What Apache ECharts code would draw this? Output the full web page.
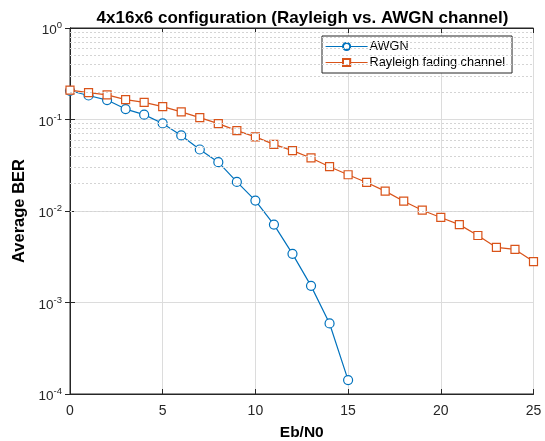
<!DOCTYPE html>
<html>
<head>
<meta charset="utf-8">
<script src="https://cdn.jsdelivr.net/npm/echarts@6/dist/echarts.min.js"></script>
<style>html,body{margin:0;padding:0;background:#fff}#c{width:545px;height:441px}</style>
</head>
<body>
<div id="c"></div>
<script>
var ebn0 = [0,1,2,3,4,5,6,7,8,9,10,11,12,13,14,15,16,17,18,19,20,21,22,23,24,25];
var awgn = [0.206,0.183,0.163,0.130,0.113,0.0906,0.067,0.047,0.0342,0.0208,0.0130,0.0071,0.0034,0.00152,0.00059,0.000142];
var rayleigh = [0.209,0.197,0.186,0.165,0.154,0.138,0.121,0.105,0.090,0.0756,0.0645,0.0535,0.0457,0.0380,0.0305,0.0249,0.0205,0.0165,0.0128,0.0102,0.0085,0.0071,0.0054,0.0040,0.0038,0.0028];
var xTicks = [0,5,10,15,20,25];
var yDecades = [1e-4,1e-3,1e-2,1e-1,1];
var minorVals = [];
[1e-4,1e-3,1e-2,1e-1].forEach(function(d){ for (var k=2;k<=9;k++) minorVals.push(+(d*k).toPrecision(3)); });

var txt = '#262626';
var font = 'Liberation Sans, Arial, sans-serif';
function pairs(vals){ return vals.map(function(v,i){ return [ebn0[i], v]; }); }
function expLabel(v){
  var e = Math.round(Math.log10(v));
  return '{b|10}{s|' + e + '}';
}
var chart = echarts.init(document.getElementById('c'), null, {renderer:'canvas'});
chart.setOption({
  animation: false,
  backgroundColor: '#fff',
  textStyle: {fontFamily: font},
  title: {
    text: '4x16x6 configuration (Rayleigh vs. AWGN channel)',
    left: 297.5, top: 5, textAlign: 'center',
    textStyle: {fontSize: 17, fontWeight: 'bold', color: '#000', fontFamily: font}
  },
  grid: {left: 70, right: 11.5, top: 28, bottom: 47, containLabel: false, outerBoundsMode: 'none',
    show: true, borderColor: txt, borderWidth: 1, backgroundColor: '#fff'},
  legend: {
    orient: 'vertical', left: 322, top: 36,
    width: 191,
    padding: [4, 7, 4, 3],
    itemGap: 3,
    itemWidth: 42, itemHeight: 9,
    borderColor: txt, borderWidth: 1, borderRadius: 0,
    backgroundColor: '#fff',
    lineStyle: {width: 1.2},
    textStyle: {fontSize: 12.7, color: '#000', fontFamily: font, padding: [0,0,0,-3]},
    data: ['AWGN', 'Rayleigh fading channel']
  },
  xAxis: [{
    type: 'value', min: 0, max: 25, interval: 5,
    name: 'Eb/N0', nameLocation: 'middle', nameGap: 31,
    nameTextStyle: {fontSize: 15.5, fontWeight: 'bold', color: '#000', fontFamily: font},
    axisLine: {show: true, lineStyle: {color: txt, width: 1}},
    axisTick: {show: true, inside: true, length: 5, lineStyle: {color: txt}},
    axisLabel: {fontSize: 14, color: txt, margin: 10, fontFamily: font,
      formatter: function(v){ return xTicks.indexOf(v) >= 0 ? String(v) : ''; }},
    splitLine: {show: true, lineStyle: {color: '#dcdcdc', width: 1}}
  }, {
    type: 'value', min: 0, max: 25, interval: 5, position: 'top',
    axisLine: {show: true, lineStyle: {color: txt}},
    axisTick: {show: true, inside: true, length: 5, lineStyle: {color: txt}},
    axisLabel: {show: false}, splitLine: {show: false}
  }],
  yAxis: [{
    type: 'log', logBase: 10, min: 1e-4, max: 1,
    name: 'Average BER', nameLocation: 'middle', nameGap: 35,
    nameTextStyle: {fontSize: 16.5, fontWeight: 'bold', color: '#000', fontFamily: font},
    axisLine: {show: true, lineStyle: {color: txt, width: 1}},
    axisTick: {show: true, inside: true, length: 5, lineStyle: {color: txt}},
    axisLabel: {color: txt, margin: 8, fontFamily: font,
      formatter: expLabel,
      rich: {b: {fontSize: 13.5, color: txt, fontFamily: font, verticalAlign: 'bottom', padding: [5,0,0,0]},
             s: {fontSize: 9.5, color: txt, fontFamily: font, verticalAlign: 'top', padding: [2,0,0,0]}}},
    splitLine: {show: true, lineStyle: {color: '#dcdcdc', width: 1}}
  }, {
    type: 'log', logBase: 10, min: 1e-4, max: 1, position: 'right',
    axisLine: {show: true, lineStyle: {color: txt}},
    axisTick: {show: true, inside: true, length: 5, lineStyle: {color: txt}},
    axisLabel: {show: false}, splitLine: {show: false}
  }],
  series: [{
    name: 'AWGN', type: 'line', data: pairs(awgn),
    symbol: 'circle', symbolSize: 9, showAllSymbol: true,
    lineStyle: {color: '#0072BD', width: 1.2},
    itemStyle: {color: '#fff', borderColor: '#0072BD', borderWidth: 1.2},
    color: '#0072BD', z: 3,
    markLine: {
      silent: true, symbol: 'none', label: {show: false}, animation: false,
      lineStyle: {color: '#d4d4d4', type: [2, 2], width: 1},
      emphasis: {disabled: true},
      data: minorVals.map(function(v){ return {yAxis: v}; })
    }
  }, {
    name: 'Rayleigh fading channel', type: 'line', data: pairs(rayleigh),
    symbol: 'rect', symbolSize: 8, showAllSymbol: true,
    lineStyle: {color: '#D95319', width: 1.2},
    itemStyle: {color: '#fff', borderColor: '#D95319', borderWidth: 1.2},
    color: '#D95319', z: 4
  }]
});
</script>
</body>
</html>
